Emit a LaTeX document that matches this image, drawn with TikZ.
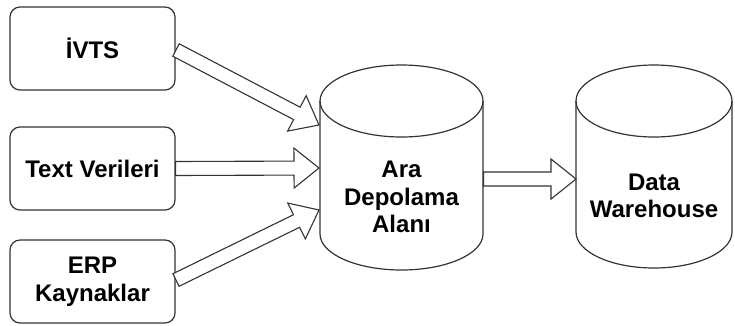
\documentclass[tikz,border=0pt]{standalone}
\usepackage{fontspec}
\setmainfont{Liberation Sans}
\usetikzlibrary{calc}

\tikzset{
  stroke/.style={draw=black!80, line width=1.2pt},
  srcbox/.style={stroke, rounded corners=10pt, minimum width=165pt, minimum height=83pt,
    align=center, inner sep=0pt, font=\bfseries\fontsize{24}{27.5}\selectfont},
  cyltext/.style={align=center, inner sep=0pt, font=\bfseries\fontsize{24}{27.5}\selectfont},
  blockarrow/.style={stroke, line width=1.1pt, fill=white, line join=miter},
}

% hollow block arrow from #1 to #2: shaft half-width 7pt, head half-width 20pt, head length 25pt
\newcommand\hollowarrow[2]{%
  \coordinate (hb) at ($(#2)!25pt!(#1)$);
  \draw[blockarrow]
    ($(#1)!7pt!90:(#2)$) -- ($(hb)!7pt!-90:(#1)$) -- ($(hb)!20pt!-90:(#1)$) -- (#2)
    -- ($(hb)!20pt!90:(#1)$) -- ($(hb)!7pt!90:(#1)$) -- ($(#1)!7pt!-90:(#2)$) -- cycle;
}

% cylinder: centre x, half width, top ellipse centre y, bottom ellipse centre y, ellipse half height
\newcommand\drum[5]{%
  \draw[stroke, fill=white] (#1-#2,#3) -- (#1-#2,#4)
    arc[start angle=180, end angle=0, x radius=#2, y radius=#5] -- (#1+#2,#3);
  \draw[stroke] (#1,#3) ellipse[x radius=#2, y radius=#5];
}

\begin{document}
\begin{tikzpicture}[x=1pt, y=-1pt]
  \useasboundingbox (0,0) rectangle (735,325);

  % source boxes
  \node[srcbox] (ivts) at (92.5,48.5) {İVTS};
  \node[srcbox] (text) at (92.5,168.5) {Text Verileri};
  \node[srcbox] (erp)  at (92.5,281.5) {ERP\\Kaynaklar};

  % staging area and warehouse cylinders
  \drum{401.5}{81.5}{101}{234}{36}
  \drum{654}{78}{101}{232}{36}
  \node[cyltext] (ara) at (401.5,197) {Ara\\Depolama\\Alanı};
  \node[cyltext] (dw)  at (654,196) {Data\\Warehouse};

  % connection points on the cylinder walls
  \coordinate (in1) at (319,125);
  \coordinate (in2) at (319,168);
  \coordinate (in3) at (319,210);
  \coordinate (out) at (483.5,179);
  \coordinate (dwin) at (576,179);
  \coordinate (s1) at (176,50);
  \coordinate (s3) at (176,280);

  \hollowarrow{s1}{in1}
  \hollowarrow{text.east}{in2}
  \hollowarrow{s3}{in3}
  \hollowarrow{out}{dwin}
\end{tikzpicture}
\end{document}
